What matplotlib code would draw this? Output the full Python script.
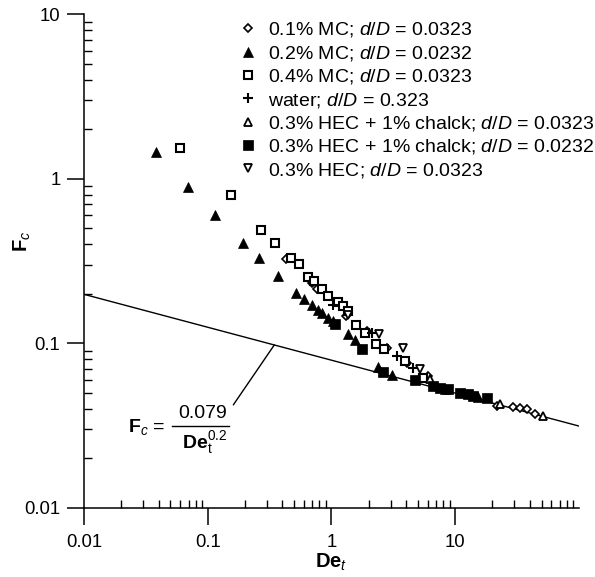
import numpy as np
import matplotlib
matplotlib.use("Agg")
import matplotlib.pyplot as plt
from matplotlib.lines import Line2D

plt.rcParams['font.family'] = ['Liberation Sans', 'DejaVu Sans']
plt.rcParams['mathtext.fontset'] = 'custom'
plt.rcParams['mathtext.rm'] = 'Liberation Sans'
plt.rcParams['mathtext.it'] = 'Liberation Sans:italic'
plt.rcParams['mathtext.bf'] = 'Liberation Sans:bold'

# ---- data ----
mc01_x = [0.433, 0.701, 0.771, 1.30, 1.92, 2.79, 4.05, 5.98, 21.7, 29.3, 33.3, 37.9, 44.0]
mc01_y = [0.327, 0.234, 0.215, 0.147, 0.119, 0.094, 0.0762, 0.0635, 0.0417, 0.0411, 0.0405, 0.040, 0.0373]

mc02_x = [0.0383, 0.0695, 0.115, 0.194, 0.261, 0.372, 0.521, 0.604, 0.701, 0.785, 0.846,
          0.946, 1.02, 1.35, 1.54, 2.36, 3.06, 8.22, 15.2]
mc02_y = [1.45, 0.885, 0.598, 0.409, 0.332, 0.258, 0.203, 0.187, 0.172, 0.160, 0.153,
          0.143, 0.137, 0.114, 0.105, 0.0721, 0.0644, 0.053, 0.0473]

mc04_x = [0.0598, 0.155, 0.271, 0.352, 0.474, 0.551, 0.651, 0.728, 0.846, 0.946, 1.12,
          1.23, 1.35, 1.59, 1.85, 2.31, 2.68, 3.90, 5.46]
mc04_y = [1.53, 0.791, 0.491, 0.409, 0.332, 0.305, 0.254, 0.240, 0.215, 0.195, 0.179,
          0.169, 0.158, 0.130, 0.116, 0.0995, 0.0927, 0.0783, 0.0618]

water_x = [1.02, 2.11, 3.36, 4.53]
water_y = [0.172, 0.116, 0.0841, 0.0711]

hecc323_x = [6.22, 22.9, 51.2]
hecc323_y = [0.061, 0.0428, 0.0362]

hecc232_x = [1.06, 1.78, 2.59, 4.70, 6.58, 7.48, 8.69, 10.9, 12.6, 13.9, 18.0]
hecc232_y = [0.1316, 0.0927, 0.0671, 0.060, 0.0552, 0.0537, 0.053, 0.050, 0.0493, 0.048, 0.0467]

hec_x = [1.35, 2.40, 3.76, 5.16]
hec_y = [0.149, 0.114, 0.094, 0.070]

labels = [
    r'0.1% MC; $\mathit{d/D}$ = 0.0323',
    r'0.2% MC; $\mathit{d/D}$ = 0.0232',
    r'0.4% MC; $\mathit{d/D}$ = 0.0323',
    r'water; $\mathit{d/D}$ = 0.323',
    r'0.3% HEC + 1% chalck; $\mathit{d/D}$ = 0.0323',
    r'0.3% HEC + 1% chalck; $\mathit{d/D}$ = 0.0232',
    r'0.3% HEC; $\mathit{d/D}$ = 0.0323',
]

fit_coef = 0.079
fit_exp = 0.2

fig = plt.figure(figsize=(5.95, 5.77), dpi=100)
ax = fig.add_axes([0.1412, 0.1196, 0.8318, 0.8561])

# fit line
xf = np.logspace(-2, 2, 50)
ax.plot(xf, fit_coef / xf**fit_exp, color='black', lw=1.0, zorder=1)

styles = [
    dict(marker='D', ms=4.5, mfc='white', mec='black', mew=1.2),
    dict(marker='^', ms=6.5, mfc='black', mec='black', mew=0.5),
    dict(marker='s', ms=6.0, mfc='white', mec='black', mew=1.5),
    dict(marker='+', ms=7.0, mfc='black', mec='black', mew=1.5),
    dict(marker='^', ms=6.0, mfc='white', mec='black', mew=1.3),
    dict(marker='s', ms=6.5, mfc='black', mec='black', mew=0.5),
    dict(marker='v', ms=6.0, mfc='white', mec='black', mew=1.3),
]
series = [(mc01_x, mc01_y), (mc02_x, mc02_y), (mc04_x, mc04_y), (water_x, water_y),
          (hecc323_x, hecc323_y), (hecc232_x, hecc232_y), (hec_x, hec_y)]
handles = []
for (xs, ys), st, lab in zip(series, styles, labels):
    h, = ax.plot(xs, ys, ls='none', label=lab, zorder=3, **st)
    handles.append(h)

ax.set_xscale('log')
ax.set_yscale('log')
ax.set_xlim(0.01, 100)
ax.set_ylim(0.01, 10)

ax.spines['top'].set_visible(False)
ax.spines['right'].set_visible(False)
for s in ('left', 'bottom'):
    ax.spines[s].set_linewidth(1.1)

ax.set_xticks([0.01, 0.1, 1, 10])
ax.set_xticklabels(['0.01', '0.1', '1', '10'])
ax.set_yticks([0.01, 0.1, 1, 10])
ax.set_yticklabels(['0.01', '0.1', '1', '10'])
ax.xaxis.set_minor_locator(matplotlib.ticker.LogLocator(base=10, subs=np.arange(2, 10)))
ax.yaxis.set_minor_locator(matplotlib.ticker.LogLocator(base=10, subs=np.arange(2, 10)))
ax.xaxis.set_minor_formatter(matplotlib.ticker.NullFormatter())
ax.yaxis.set_minor_formatter(matplotlib.ticker.NullFormatter())
ax.tick_params(which='major', direction='out', length=12, width=1.1, labelsize=13.3, pad=5)
ax.tick_params(which='minor', direction='in', length=6, width=1.0)
ax.tick_params(axis='x', which='major', pad=7)

ax.set_xlabel(r'$\mathbf{De}_{\mathit{t}}$', fontsize=14.5, labelpad=0.5)
ax.set_ylabel(r'$\mathbf{F}_{\mathit{c}}$', fontsize=14.5)
ax.yaxis.set_label_coords(-0.103, 0.54)

# formula annotation
ax.annotate('', xy=(0.345, fit_coef / 0.345**fit_exp), xytext=(0.161, 0.0423),
            arrowprops=dict(arrowstyle='-', color='black', lw=1.0, shrinkA=0, shrinkB=0))
W, H = 595.0, 577.0
fig.text(147 / W, 1 - 427 / H, r'$\mathbf{F}_{\mathit{c}}$ =', fontsize=14,
         ha='center', va='center')
fig.text(203 / W, 1 - 413 / H, '0.079', fontsize=14, ha='center', va='center')
fig.add_artist(Line2D([172 / W, 229 / W], [1 - 426 / H, 1 - 426 / H],
                      color='black', lw=1.0, transform=fig.transFigure))
fig.text(205 / W, 1 - 443 / H, r'$\mathbf{De}_{\mathrm{t}}^{\mathit{0.2}}$', fontsize=14,
         ha='center', va='center')

ax.legend(handles=handles, loc='upper left', bbox_to_anchor=(0.316, 0.987),
          frameon=False, fontsize=14, handlelength=0.8, handletextpad=0.6,
          labelspacing=0.225, borderpad=0.0, borderaxespad=0.0)

fig.savefig('out.png', dpi=100)
